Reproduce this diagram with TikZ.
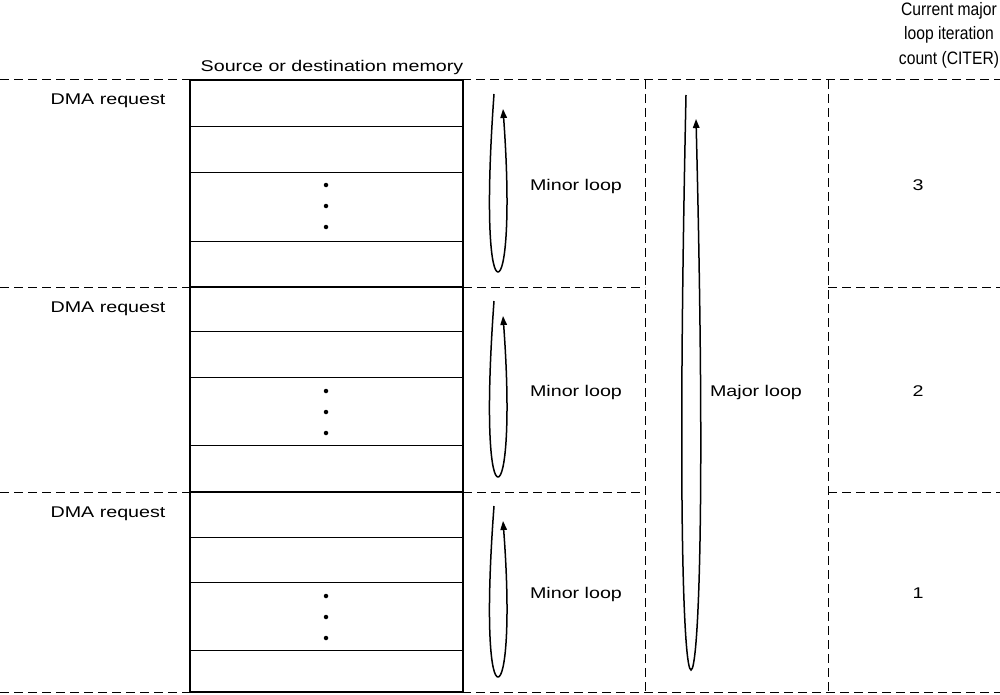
\documentclass[tikz,border=0pt]{standalone}
\usepackage{fontspec}
\setmainfont{Liberation Sans}
\usetikzlibrary{arrows.meta}
\tikzset{
 memblock/.style={line width=2pt},
 memrow/.style={line width=1pt},
 divider/.style={line width=1pt,dash pattern=on 9pt off 5pt},
 loopline/.style={line width=1.5pt,-{Triangle[length=9pt,width=6.5pt]}},
 slot/.style={circle,fill,minimum size=4.5pt,inner sep=0},
 lbl/.style={font=\fontsize{15.5}{24.5}\selectfont,xscale=1.27,inner sep=0,anchor=base},
 headlbl/.style={font=\fontsize{18}{24.5}\selectfont,xscale=0.87,inner sep=0,anchor=south,align=center}
}

\begin{document}
\begin{tikzpicture}[x=1pt,y=-1pt]
\path[use as bounding box] (0,0) rectangle (1000,695);
% dashed grid
\draw[divider] (0,80) -- (1000,80);
\draw[divider] (0,287) -- (190,287);
\draw[divider] (463,287) -- (645,287);
\draw[divider] (828,287) -- (1000,287);
\draw[divider] (0,492) -- (190,492);
\draw[divider] (463,492) -- (645,492);
\draw[divider] (828,492) -- (1000,492);
\draw[divider] (0,692) -- (1000,692);
\draw[divider] (645,80) -- (645,692);
\draw[divider] (828,80) -- (828,692);
% memory, block 1
\draw[memblock,fill=white] (190,80) rectangle (463,287);
\draw[memrow] (190,127) -- (463,127);
\draw[memrow] (190,173) -- (463,173);
\draw[memrow] (190,241) -- (463,241);
\node[slot] (d1a) at (326,185) {};
\node[slot] (d1b) at (326,206) {};
\node[slot] (d1c) at (326,227) {};
% memory, block 2
\draw[memblock,fill=white] (190,287) rectangle (463,492);
\draw[memrow] (190,331) -- (463,331);
\draw[memrow] (190,377) -- (463,377);
\draw[memrow] (190,445) -- (463,445);
\node[slot] (d2a) at (326,391) {};
\node[slot] (d2b) at (326,412) {};
\node[slot] (d2c) at (326,433) {};
% memory, block 3
\draw[memblock,fill=white] (190,492) rectangle (463,692);
\draw[memrow] (190,537) -- (463,537);
\draw[memrow] (190,582) -- (463,582);
\draw[memrow] (190,650) -- (463,650);
\node[slot] (d3a) at (326,596) {};
\node[slot] (d3b) at (326,617) {};
\node[slot] (d3c) at (326,638) {};
% minor loops
\coordinate (m1s) at (494,94);
\coordinate (m1b) at (498,272);
\coordinate (m1e) at (503,109);
\draw[loopline] (m1s) .. controls (485,220) and (491,272) .. (m1b) .. controls (505,272) and (511,220) .. (m1e);
\coordinate (m2s) at (494,301);
\coordinate (m2b) at (498,477);
\coordinate (m2e) at (503,316);
\draw[loopline] (m2s) .. controls (485,425) and (491,477) .. (m2b) .. controls (505,477) and (511,425) .. (m2e);
\coordinate (m3s) at (494,506);
\coordinate (m3b) at (498,677);
\coordinate (m3e) at (503,521);
\draw[loopline] (m3s) .. controls (485,627) and (491,677) .. (m3b) .. controls (505,677) and (511,627) .. (m3e);
% major loop
\coordinate (Ms) at (686,95);
\coordinate (Mb) at (691,670);
\coordinate (Me) at (696,119);
\draw[loopline] (Ms) .. controls (677,520) and (684,670) .. (Mb) .. controls (698,670) and (706,520) .. (Me);
% labels
\node[lbl] (mem) at (332,72) {Source or destination memory};
\node[headlbl] (citer) at (949,68) {Current major\\loop iteration\\count (CITER)};
\node[lbl] (req1) at (108,105) {DMA request};
\node[lbl] (req2) at (108,312) {DMA request};
\node[lbl] (req3) at (108,517) {DMA request};
\node[lbl] (minor1) at (576,190) {Minor loop};
\node[lbl] (minor2) at (576,396) {Minor loop};
\node[lbl] (minor3) at (576,598) {Minor loop};
\node[lbl] (major) at (756,396) {Major loop};
\node[lbl] (cnt3) at (918,190) {3};
\node[lbl] (cnt2) at (918,396) {2};
\node[lbl] (cnt1) at (918,598) {1};
\end{tikzpicture}
\end{document}
